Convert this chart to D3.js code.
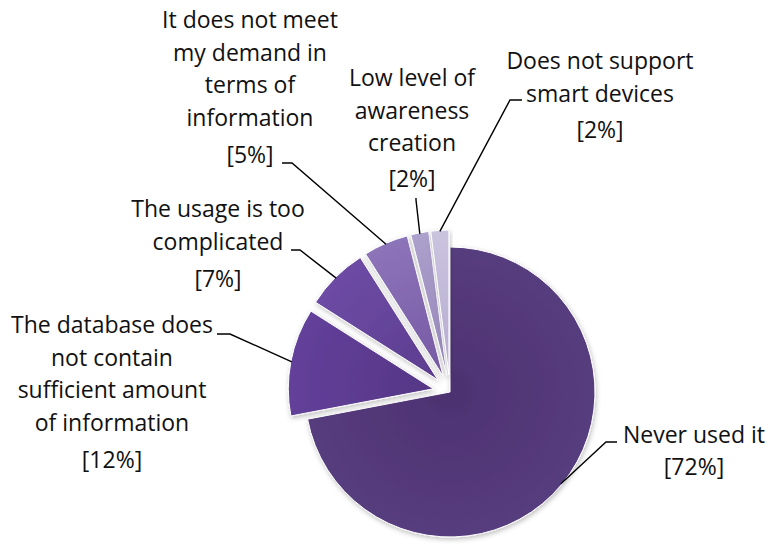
<!DOCTYPE html>
<html>
<head>
<meta charset="utf-8">
<script src="https://cdn.jsdelivr.net/npm/d3@7/dist/d3.min.js"></script>
<style>
  html, body { margin: 0; padding: 0; background: #fff; }
  svg { display: block; }
  text { font-family: "Open Sans", Lato, sans-serif; fill: #111; }
</style>
</head>
<body>
<svg id="chart" width="771" height="551"></svg>
<script>
// ---- data ----
const categories = [
  "Never used it",
  "The database does not contain sufficient amount of information",
  "The usage is too complicated",
  "It does not meet my demand in terms of information",
  "Low level of awareness creation",
  "Does not support smart devices"
];
const values = [72, 12, 7, 5, 2, 2];
const labelLines = [
  ["Never used it"],
  ["The database does", "not contain", "sufficient amount", "of information"],
  ["The usage is too", "complicated"],
  ["It does not meet", "my demand in", "terms of", "information"],
  ["Low level of", "awareness", "creation"],
  ["Does not support", "smart devices"]
];
const colorsInner = ["#4d3271", "#553685", "#5b3d8f", "#7559a3", "#9485b8", "#b5abd0"];
const colorsOuter = ["#573c7e", "#63409a", "#6d4ba4", "#8d74b9", "#aca0cc", "#cbc4df"];

// ---- layout (positions only) ----
const cx = 450, cy = 392, R = 145, explode = 17;
const labelLayout = [
  { x: 694, y: 443, py: 475, anchor: [617, 442], elbow: [606, 442] },
  { x: 112, y: 333, py: 468, anchor: [217, 334], elbow: [230, 334] },
  { x: 218, y: 217, py: 287, anchor: [291, 250], elbow: [300, 250] },
  { x: 250, y: 28,  py: 163, anchor: [282, 163], elbow: [292, 163] },
  { x: 412, y: 86,  py: 187, anchor: [416, 198], elbow: [416, 200] },
  { x: 600, y: 69,  py: 138, anchor: [522, 100], elbow: [510, 100] }
];
const lineGap = 32.5;

const svg = d3.select("#chart");
const defs = svg.append("defs");

const filter = defs.append("filter").attr("id", "shadow")
  .attr("x", "-20%").attr("y", "-20%").attr("width", "140%").attr("height", "140%");
filter.append("feDropShadow").attr("dx", 1).attr("dy", 2)
  .attr("stdDeviation", 2.5).attr("flood-color", "#000").attr("flood-opacity", 0.25);

values.forEach((v, i) => {
  const g = defs.append("radialGradient").attr("id", "grad" + i)
    .attr("gradientUnits", "userSpaceOnUse")
    .attr("cx", 0).attr("cy", 0).attr("r", R);
  g.append("stop").attr("offset", "0%").attr("stop-color", colorsInner[i]);
  g.append("stop").attr("offset", "100%").attr("stop-color", colorsOuter[i]);
});

const pie = d3.pie().sort(null).value(d => d);
const arcs = pie(values);
const arc = d3.arc().innerRadius(0).outerRadius(R);

function offsetOf(d, i) {
  const mid = (d.startAngle + d.endAngle) / 2;
  const off = i === 0 ? 0 : explode;
  return [Math.sin(mid) * off, -Math.cos(mid) * off];
}

const gPie = svg.append("g").attr("transform", `translate(${cx},${cy})`);
gPie.selectAll("path.slice")
  .data(arcs)
  .join("path")
  .attr("class", "slice")
  .attr("d", arc)
  .attr("fill", (d, i) => `url(#grad${i})`)
  .attr("stroke", "#fff")
  .attr("stroke-width", 1)
  .attr("filter", "url(#shadow)")
  .attr("transform", (d, i) => {
    const [dx, dy] = offsetOf(d, i);
    return `translate(${dx},${dy})`;
  });

// leader lines
const lineGen = d3.line();
arcs.forEach((d, i) => {
  const mid = (d.startAngle + d.endAngle) / 2;
  const [dx, dy] = offsetOf(d, i);
  const end = [cx + dx + Math.sin(mid) * (R - 1), cy + dy - Math.cos(mid) * (R - 1)];
  const L = labelLayout[i];
  svg.append("path")
    .attr("d", lineGen([L.anchor, L.elbow, end]))
    .attr("fill", "none")
    .attr("stroke", "#000")
    .attr("stroke-width", 1.4);
});

// labels
const fontSize = 23;
arcs.forEach((d, i) => {
  const L = labelLayout[i];
  const t = svg.append("text")
    .attr("text-anchor", "middle")
    .attr("font-size", fontSize);
  labelLines[i].forEach((ln, k) => {
    t.append("tspan").attr("x", L.x).attr("y", L.y + k * lineGap).text(ln);
  });
  t.append("tspan").attr("x", L.x).attr("y", L.py).text(`[${values[i]}%]`);
});
</script>
</body>
</html>
